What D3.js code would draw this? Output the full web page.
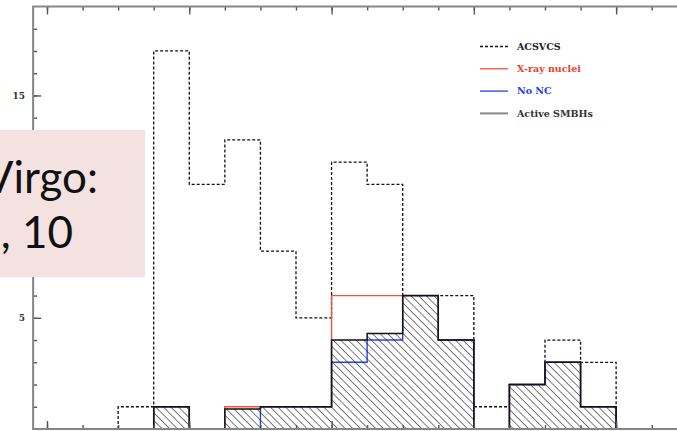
<!DOCTYPE html>
<html>
<head>
<meta charset="utf-8">
<script src="https://cdn.jsdelivr.net/npm/d3@7/dist/d3.min.js"></script>
<style>
  body { margin: 0; background: #fff; }
  svg { display: block; }
</style>
</head>
<body>
<svg id="chart" width="677" height="431"></svg>
<script>
// bin index (left edge) of each histogram bin
const bins = [2, 3, 4, 5, 6, 7, 8, 9, 10, 11, 12, 13, 14, 15];
// counts per bin
const acsvcs = [1, 17, 11, 13, 8, 5, 12, 11, 6, 6, 1, 2, 4, 3];
const xrayNuclei = [0, 1, 0, 1, 1, 1, 6, 6, 6, 4, 0, 2, 3, 1];
const noNC = [0, 1, 0, 0, 1, 1, 3, 4, 6, 4, 0, 2, 3, 1];
const activeSMBHs = [0, 1, 0, 0.9, 1, 1, 4, 4.3, 6, 4, 0, 2, 3, 1];

const yLabels = [5, 10, 15];
const legendNames = ["ACSVCS", "X-ray nuclei", "No NC", "Active SMBHs"];

const svg = d3.select("#chart");

const x = d3.scaleLinear().domain([0, 17]).range([47, 651.7]);
const y = d3.scaleLinear().domain([0, 19]).range([429, 6.5]);
const xMin = -0.39, xMax = 18.39;

// hatch pattern
const defs = svg.append("defs");
defs.append("pattern")
  .attr("id", "hatch")
  .attr("patternUnits", "userSpaceOnUse")
  .attr("width", 5.4)
  .attr("height", 5.4)
  .attr("patternTransform", "rotate(-45)")
  .append("line")
  .attr("x1", 0).attr("y1", 0)
  .attr("x2", 0).attr("y2", 5.4)
  .attr("stroke", "#222")
  .attr("stroke-width", 1.2);

const stepPoints = vals => {
  const pts = [[bins[0], 0]];
  bins.forEach((b, i) => pts.push([b, vals[i]]));
  pts.push([bins[bins.length - 1] + 1, 0]);
  return pts;
};

const line = d3.line()
  .x(d => x(d[0]))
  .y(d => y(d[1]))
  .curve(d3.curveStepAfter);

const area = d3.area()
  .x(d => x(d[0]))
  .y0(y(0))
  .y1(d => y(d[1]))
  .curve(d3.curveStepAfter);

// ACSVCS dashed
svg.append("path")
  .attr("d", line(stepPoints(acsvcs)))
  .attr("fill", "none")
  .attr("stroke", "#111")
  .attr("stroke-width", 1.3)
  .attr("stroke-dasharray", "3,2");

// X-ray nuclei
svg.append("path")
  .attr("d", line(stepPoints(xrayNuclei)))
  .attr("fill", "none")
  .attr("stroke", "#f0503c")
  .attr("stroke-width", 1.4);

// No NC
svg.append("path")
  .attr("d", line(stepPoints(noNC)))
  .attr("fill", "none")
  .attr("stroke", "#1f45f0")
  .attr("stroke-width", 1.4);

// Active SMBHs hatched
svg.append("path")
  .attr("d", area(stepPoints(activeSMBHs)))
  .attr("fill", "url(#hatch)");
svg.append("path")
  .attr("d", line(stepPoints(activeSMBHs)))
  .attr("fill", "none")
  .attr("stroke", "#111")
  .attr("stroke-width", 1.5);

// axes ticks
const tickStyle = g => {
  g.select(".domain").remove();
  g.selectAll(".tick line").attr("stroke", "#555").attr("stroke-width", 1.4);
};
const xMinor = d3.range(0, 19);
const xMajor = [0, 4, 8, 12, 16];

svg.append("g").attr("transform", `translate(0,${y(19)})`)
  .call(d3.axisTop(x).tickValues(xMinor).tickSize(-4).tickFormat(""))
  .call(tickStyle);
svg.append("g").attr("transform", `translate(0,${y(19)})`)
  .call(d3.axisTop(x).tickValues(xMajor).tickSize(-8).tickFormat(""))
  .call(tickStyle);
svg.append("g").attr("transform", `translate(0,${y(0)})`)
  .call(d3.axisBottom(x).tickValues(xMinor).tickSize(-4).tickFormat(""))
  .call(tickStyle);
svg.append("g").attr("transform", `translate(0,${y(0)})`)
  .call(d3.axisBottom(x).tickValues(xMajor).tickSize(-8).tickFormat(""))
  .call(tickStyle);

svg.append("g").attr("transform", `translate(${x(xMin)},0)`)
  .call(d3.axisLeft(y).tickValues(d3.range(1, 19)).tickSize(-4).tickFormat(""))
  .call(tickStyle);
svg.append("g").attr("transform", `translate(${x(xMin)},0)`)
  .call(d3.axisLeft(y).tickValues(yLabels).tickSize(-8).tickPadding(8))
  .call(tickStyle)
  .call(g => g.selectAll("text")
    .attr("font-family", "DejaVu Serif")
    .attr("font-weight", "bold")
    .attr("font-size", 9)
    .attr("fill", "#333"));

// frame
svg.append("rect")
  .attr("x", x(xMin))
  .attr("y", y(19))
  .attr("width", x(xMax) - x(xMin))
  .attr("height", y(0) - y(19))
  .attr("fill", "none")
  .attr("stroke", "#858585")
  .attr("stroke-width", 2);

// legend
const legendStyles = [
  { stroke: "#111", dash: "3,2", text: "#222", w: 1.3 },
  { stroke: "#f0503c", dash: null, text: "#e8402a", w: 1.3 },
  { stroke: "#1f45f0", dash: null, text: "#2040f0", w: 1.3 },
  { stroke: "#888", dash: null, text: "#333", w: 2 }
];
const legend = svg.append("g");
legendNames.forEach((name, i) => {
  const ly = 46.5 + i * 22.3;
  const st = legendStyles[i];
  legend.append("line")
    .attr("x1", 480).attr("x2", 508)
    .attr("y1", ly).attr("y2", ly)
    .attr("stroke", st.stroke)
    .attr("stroke-width", st.w)
    .attr("stroke-dasharray", st.dash);
  legend.append("text")
    .attr("x", 517).attr("y", ly)
    .attr("dy", "0.35em")
    .attr("font-family", "DejaVu Serif")
    .attr("font-weight", "bold")
    .attr("font-size", 9.5)
    .attr("fill", st.text)
    .text(name);
});

// overlay box
svg.append("rect")
  .attr("x", 0).attr("y", 130)
  .attr("width", 145).attr("height", 147)
  .attr("fill", "#f4e2e1");
svg.append("text")
  .attr("x", 98).attr("y", 193)
  .attr("text-anchor", "end")
  .attr("font-family", "Lato")
  .attr("font-size", 44)
  .attr("fill", "#111")
  .text("Virgo:");
svg.append("text")
  .attr("x", 73).attr("y", 248)
  .attr("text-anchor", "end")
  .attr("font-family", "Lato")
  .attr("font-size", 44)
  .attr("fill", "#111")
  .text(", 10");
</script>
</body>
</html>
